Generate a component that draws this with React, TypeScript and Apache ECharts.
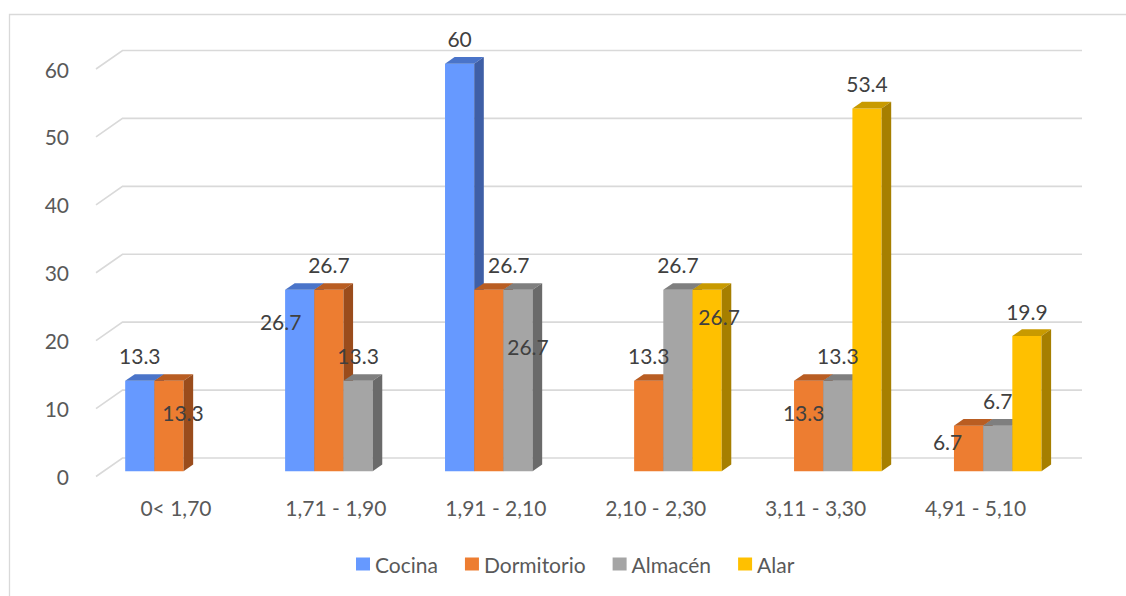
import React, { useEffect, useRef } from "react";
import * as echarts from "echarts";

// ---- data ----
const categories = ["0< 1,70", "1,71 - 1,90", "1,91 - 2,10", "2,10 - 2,30", "3,11 - 3,30", "4,91 - 5,10"];
const seriesNames = ["Cocina", "Dormitorio", "Almacén", "Alar"];
const cocina = [13.3, 26.7, 60, null, null, null];
const dormitorio = [13.3, 26.7, 26.7, 13.3, 13.3, 6.7];
const almacen = [null, 13.3, 26.7, 26.7, 13.3, 6.7];
const alar = [null, null, null, 26.7, 53.4, 19.9];
const yTicks = [0, 10, 20, 30, 40, 50, 60];

// ---- styles ----
const FRONT = ["#6699FF", "#ED7D31", "#A5A5A5", "#FFC000"];
const TOP = ["#4A74C9", "#B95D22", "#7F7F7F", "#C89A00"];
const SIDE = ["#3F5FA6", "#9A4C1C", "#6A6A6A", "#A67F00"];
const FONT = "Lato, 'Open Sans', sans-serif";
const FS = 21;
const WALL_DX = 26.5;
const WALL_DY = 18.5;
const BAR_SHIFT_X = 7.6;
const BAR_SHIFT_Y = 5.3;
const BAR_DX = 9.6;
const BAR_DY = 6.7;
const BAR_FRAC = 0.1825;
// label nudges (px) relative to default "above bar" position, per series per category
const LABEL_NUDGE: number[][][] = [
  [[0, 0], [-19, 57], [0, 0], [0, 0], [0, 0], [0, 0]],
  [[14, 57], [0, 0], [20, 0], [0, 0], [-5, 57], [-21, 41]],
  [[0, 0], [0, 0], [10, 82], [0, 0], [0, 0], [0, 0]],
  [[0, 0], [0, 0], [0, 0], [12, 52], [0, 0], [0, 0]],
];

const allValues = [cocina, dormitorio, almacen, alar];

function makeBarRenderer(s: number) {
  return (params: any, api: any) => {
    const cat = api.value(0);
    const v = api.value(1);
    const band = api.size([1, 0])[0];
    const w = band * BAR_FRAC;
    const n = seriesNames.length;
    const [cx, yv] = api.coord([cat, v]);
    const [, y0] = api.coord([cat, 0]);
    const xl = cx - (w * n) / 2 + s * w + BAR_SHIFT_X;
    const xr = xl + w;
    const yt = yv - BAR_SHIFT_Y;
    const yb = y0 - BAR_SHIFT_Y;
    const nudge = LABEL_NUDGE[s][cat] || [0, 0];
    return {
      type: "group",
      children: [
        {
          type: "rect",
          shape: { x: xl, y: yt, width: w, height: yb - yt },
          style: { fill: FRONT[s] },
        },
        {
          type: "polygon",
          shape: { points: [[xl, yt], [xr, yt], [xr + BAR_DX, yt - BAR_DY], [xl + BAR_DX, yt - BAR_DY]] },
          style: { fill: TOP[s] },
        },
        {
          type: "polygon",
          shape: { points: [[xr, yt], [xr + BAR_DX, yt - BAR_DY], [xr + BAR_DX, yb - BAR_DY], [xr, yb]] },
          style: { fill: SIDE[s] },
        },
        {
          type: "text",
          z2: 10,
          style: {
            text: String(v),
            x: (xl + xr) / 2 + nudge[0],
            y: yt - 25 + nudge[1],
            align: "center",
            verticalAlign: "middle",
            fill: "#404040",
            fontSize: FS,
            fontFamily: FONT,
          },
        },
      ],
    };
  };
}

function gridRenderer(params: any, api: any) {
  const v = api.value(1);
  const y = api.coord([0, v])[1];
  const x0 = params.coordSys.x;
  const x1 = x0 + params.coordSys.width;
  return {
    type: "polyline",
    shape: { points: [[x0, y], [x0 + WALL_DX, y - WALL_DY], [x1 + WALL_DX, y - WALL_DY]] },
    style: { stroke: "#D9D9D9", lineWidth: 1.6, fill: "none" },
  };
}

export default function App() {
  const ref = useRef<HTMLDivElement>(null);
  useEffect(() => {
    if (!ref.current) return;
    const chart = echarts.init(ref.current, null, { renderer: "svg" });
    const barSeries = seriesNames.map((name, s) => ({
      name,
      type: "custom",
      renderItem: makeBarRenderer(s),
      itemStyle: { color: FRONT[s] },
      data: allValues[s]
        .map((v, i) => (v == null ? null : [i, v]))
        .filter((d) => d !== null),
      encode: { x: 0, y: 1 },
      clip: false,
      z: 3,
    }));
    chart.setOption({
      animation: false,
      backgroundColor: "#FFFFFF",
      graphic: [
        {
          type: "rect",
          z: -10,
          silent: true,
          shape: { x: 9.5, y: 14.5, width: 1300, height: 800 },
          style: { fill: "none", stroke: "#D9D9D9", lineWidth: 1.3 },
        },
      ],
      grid: { left: 96, right: 70.5, top: 69, bottom: 119.5 },
      legend: {
        data: seriesNames,
        left: 356,
        top: 553.5,
        padding: 0,
        icon: "rect",
        itemWidth: 14,
        itemHeight: 13,
        itemGap: 27,
        textStyle: { color: "#595959", fontSize: FS, fontFamily: FONT },
      },
      xAxis: {
        type: "category",
        data: categories,
        axisLine: { show: false },
        axisTick: { show: false },
        splitLine: { show: false },
        axisLabel: { color: "#595959", fontSize: FS, fontFamily: FONT, margin: 20.5 },
      },
      yAxis: {
        type: "value",
        min: 0,
        max: 60,
        interval: 10,
        axisLine: { show: false },
        axisTick: { show: false },
        splitLine: { show: false },
        axisLabel: { color: "#595959", fontSize: FS, fontFamily: FONT, margin: 27 },
      },
      series: [
        {
          type: "custom",
          renderItem: gridRenderer,
          data: yTicks.map((v) => [0, v]),
          encode: { x: 0, y: 1 },
          silent: true,
          clip: false,
          z: 1,
        },
        ...barSeries,
      ],
    });
    return () => chart.dispose();
  }, []);
  return (
    <div
      ref={ref}
      style={{ position: "fixed", left: 0, top: 0, width: 1126, height: 596 }}
    />
  );
}
